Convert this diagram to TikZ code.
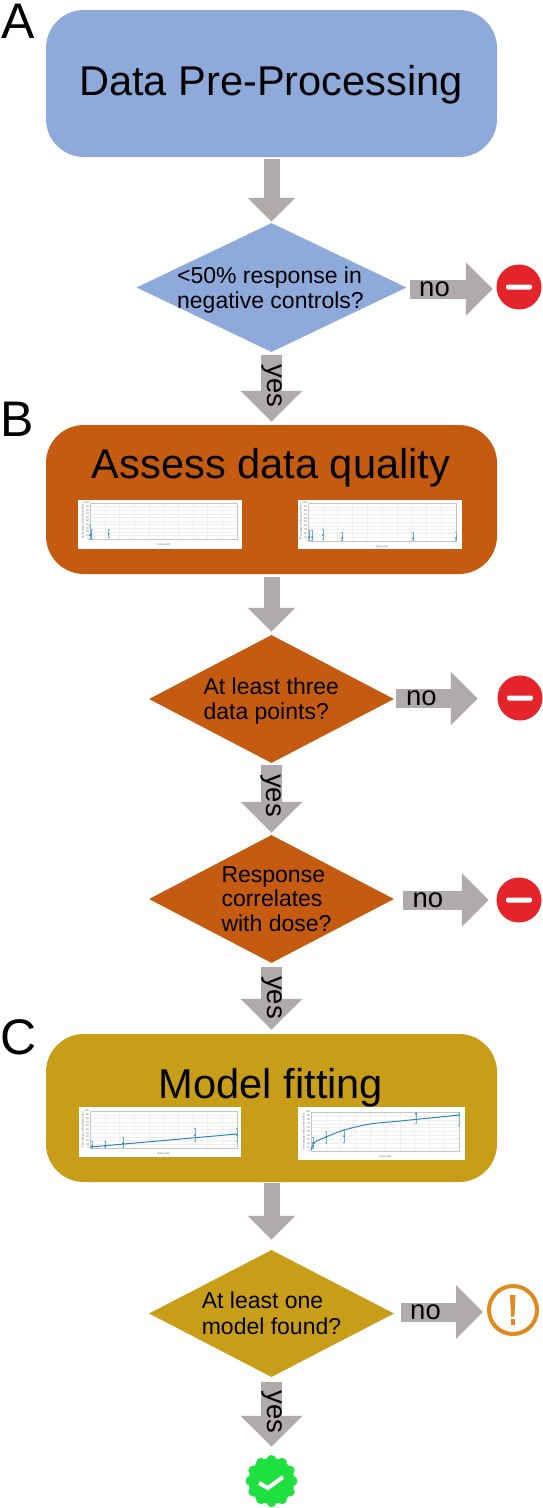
\documentclass[tikz,border=0pt]{standalone}
\usepackage{fontspec}
\setmainfont{Liberation Sans}
\usetikzlibrary{arrows.meta,shapes.geometric}
\definecolor{cblue}{HTML}{8EAADB}
\definecolor{corange}{HTML}{C55A11}
\definecolor{cgold}{HTML}{C89D18}
\definecolor{cgrey}{HTML}{B0AAAA}
\definecolor{cred}{HTML}{E4232B}
\definecolor{cwarn}{HTML}{E08A1E}
\definecolor{cgreen}{HTML}{1EE03F}
\definecolor{cplot}{HTML}{2A86BC}
\definecolor{cgrid}{HTML}{EFEFEF}
\tikzset{
  stagebox/.style={rounded corners=38pt,minimum width=451pt,minimum height=147pt,inner sep=0pt},
  stagetitle/.style={font=\fontsize{41.6}{46}\selectfont,inner sep=0pt},
  decide/.style={diamond,aspect=2,inner sep=0pt},
  decidetext/.style={font=\fontsize{23}{25.5}\selectfont,align=left,inner sep=0pt},
  panel/.style={fill=white,draw=none},
  flowlabel/.style={font=\fontsize{27.5}{30}\selectfont,inner sep=0pt},
  letter/.style={font=\fontsize{50}{54}\selectfont,inner sep=0pt},
  flowplain/.style={draw=cgrey,line width=16pt,-{Triangle[length=24pt,width=46pt]}},
  flowyes/.style={draw=cgrey,line width=21pt,-{Triangle[length=31pt,width=60pt]}},
  flowno/.style={draw=cgrey,line width=19pt,-{Triangle[length=27pt,width=52pt]}},
  stopsign/.style={circle,fill=cred,minimum size=45pt,inner sep=0pt},
  minusbar/.style={fill=white,rounded corners=2pt,minimum width=26pt,minimum height=5pt,inner sep=0pt},
  gridline/.style={draw=cgrid,line width=0.25pt},
  axisline/.style={draw=gray!45,line width=0.3pt},
  errbar/.style={draw=cplot!65,line width=0.5pt},
  fitcurve/.style={draw=cplot,line width=1pt},
  tinytext/.style={font=\fontsize{2.6}{3}\selectfont,inner sep=0pt,text=black!60},
}
% plot background: x0 x1 ytop ybot
\newcommand{\plotgrid}[4]{%
  \foreach \i in {0,...,10}{
    \pgfmathsetmacro{\gx}{#1+(#2-#1)*\i/10}
    \pgfmathsetmacro{\gy}{#4+(#3-#4)*\i/10}
    \draw[gridline] (\gx,#3) -- (\gx,#4);
    \draw[gridline] (#1,\gy) -- (#2,\gy);
    \pgfmathtruncatemacro{\yval}{\i*10}
    \node[tinytext,anchor=east] at (#1-0.8,\gy) {\yval};
  }
  \draw[axisline] (#1,#3) rectangle (#2,#4);
  \node[tinytext] at ({(#1+#2)/2},#4+6) {Dose (uM)};
  \node[tinytext,rotate=90] at (#1-7,{(#3+#4)/2}) {Percentage of Maximum Effect};
}
% x ylow ymid yhigh
\newcommand{\ebar}[4]{%
  \draw[errbar] (#1,#2) -- (#1,#4);
  \draw[errbar] (#1-1,#2) -- (#1+1,#2);
  \draw[errbar] (#1-1,#4) -- (#1+1,#4);
  \fill[cplot] (#1,#3) circle (1pt);
}
\begin{document}
\begin{tikzpicture}[x=1pt,y=-1pt]
\path[use as bounding box] (0,0) rectangle (543,1508);

% letters
\node[letter] (la) at (18.5,21) {A};
\node[letter] (lb) at (16.7,419) {B};
\node[letter] (lc) at (18.5,1037.5) {C};

% section A
\node[stagebox,fill=cblue] (boxA) at (271.5,83.5) {};
\node[stagetitle] (ta) at (271,85) {Data Pre-Processing};
\node[decide,fill=cblue,minimum width=270pt,minimum height=129pt] (d1) at (271.5,287.5) {};
\node[decidetext] (dt1) at (270.5,290) {<50\% response in\\negative controls?};
\node[stopsign] (stop1) at (519,287) {};
\node[minusbar] (m1) at (stop1) {};

% section B
\node[stagebox,fill=corange,minimum height=149pt] (boxB) at (271.5,499.5) {};
\node[stagetitle] (tb) at (271,467.5) {Assess data quality};
\node[panel,minimum width=164pt,minimum height=49pt,inner sep=0pt] (pb1) at (160,524.5) {};
\node[panel,minimum width=164pt,minimum height=49pt,inner sep=0pt] (pb2) at (380,524.5) {};
\plotgrid{90}{237}{503}{539}
\ebar{90}{525}{535}{539}
\ebar{91.5}{529}{534}{538}
\ebar{108.7}{529}{534}{537}
\plotgrid{308}{456}{503}{541}
\ebar{309}{530}{537}{540}
\ebar{312}{530}{537}{540}
\ebar{323}{529}{535}{539}
\ebar{342}{532}{538}{540}
\ebar{413}{532}{538}{540}
\ebar{456}{532}{538}{540}

\node[decide,fill=corange,minimum width=245pt,minimum height=128pt] (d2) at (271.5,699) {};
\node[decidetext] (dt2) at (271.3,701) {At least three\\data points?};
\node[stopsign] (stop2) at (520,698) {};
\node[minusbar] (m2) at (stop2) {};

\node[decide,fill=corange,minimum width=245pt,minimum height=128pt] (d3) at (271.5,899) {};
\node[decidetext,font=\fontsize{23}{24.3}\selectfont] (dt3) at (276.5,899) {Response\\correlates\\with dose?};
\node[stopsign] (stop3) at (519,900) {};
\node[minusbar] (m3) at (stop3) {};

% section C
\node[stagebox,fill=cgold,minimum height=148pt] (boxC) at (271.5,1108) {};
\node[stagetitle] (tc) at (271,1087.5) {Model fitting};
\node[panel,minimum width=162pt,minimum height=50pt,inner sep=0pt] (pc1) at (160,1132) {};
\node[panel,minimum width=167pt,minimum height=53pt,inner sep=0pt] (pc2) at (381.5,1133.5) {};
\plotgrid{90}{237}{1111}{1148}
\ebar{92}{1141}{1146}{1148}
\ebar{105}{1141}{1146}{1148}
\ebar{123}{1137}{1143}{1147}
\ebar{195}{1128}{1135}{1141}
\ebar{237}{1128}{1135}{1141}
\draw[fitcurve] (90,1147) -- (237,1134);
\plotgrid{311}{459}{1112}{1151}
\ebar{313}{1137}{1143}{1148}
\ebar{326}{1131}{1137}{1143}
\ebar{344}{1130}{1136}{1142}
\ebar{416}{1112}{1114}{1123}
\ebar{459}{1112}{1115}{1125}
\draw[fitcurve] plot[smooth] coordinates {(311,1150) (315,1142) (326,1137) (344,1130) (370,1124) (400,1121) (430,1118) (459,1115)};

\node[decide,fill=cgold,minimum width=245pt,minimum height=127pt] (d4) at (271.5,1313.5) {};
\node[decidetext] (dt4) at (271.5,1313.5) {At least one\\model found?};

% warning
\node[circle,draw=cwarn,line width=4pt,minimum size=48pt,inner sep=0pt] (warn) at (513,1310) {};
\fill[cwarn] (510,1295) -- (515.5,1295) -- (514.4,1316.5) -- (511.1,1316.5) -- cycle;
\fill[cwarn] (510.7,1318.5) rectangle (515,1325);

% done
\node[circle,fill=cgreen,minimum size=46pt,inner sep=0pt] (done) at (271.5,1481) {};
\foreach \a in {0,30,...,330}{\fill[cgreen] (done) ++(\a:21pt) circle (5pt);}
\draw[white,line width=4pt] (259,1483) -- (268,1488) -- (283,1477);

% heights of the horizontal connectors
\coordinate (no1c) at (0,289);
\coordinate (no2c) at (0,698.5);
\coordinate (no3c) at (0,900);
\coordinate (no4c) at (0,1312);

% connectors
\draw[flowplain,shorten <=2pt,shorten >=1pt] (boxA) -- (d1);
\draw[flowyes,shorten <=3pt,shorten >=3pt] (d1) -- (boxB);
\draw[flowno,shorten <=3pt,shorten >=3.5pt] (d1.east |- no1c) -- (stop1.west |- no1c);
\draw[flowplain,shorten <=3pt,shorten >=3pt] (boxB) -- (d2);
\draw[flowno,shorten <=2pt,shorten >=19.5pt] (d2.east |- no2c) -- (stop2.west |- no2c);
\draw[flowyes,shorten <=2pt,shorten >=2pt] (d2) -- (d3);
\draw[flowno,shorten <=9pt,shorten >=7.5pt] (d3.east |- no3c) -- (stop3.west |- no3c);
\draw[flowyes,shorten <=4pt,shorten >=4pt] (d3) -- (boxC);
\draw[flowplain,shorten <=1pt,shorten >=10pt] (boxC) -- (d4);
\draw[flowno,shorten <=6.5pt,shorten >=4pt] (d4.east |- no4c) -- (warn.west |- no4c);
\draw[flowyes,shorten <=5pt,shorten >=11pt] (d4) -- (done);

\node[flowlabel] (no1) at (434.5,289.5) {no};
\node[flowlabel] (no2) at (421.5,698.5) {no};
\node[flowlabel] (no3) at (428,900) {no};
\node[flowlabel] (no4) at (425.5,1312) {no};
\node[flowlabel,rotate=-90] (yes1) at (272.5,386) {yes};
\node[flowlabel,rotate=-90] (yes2) at (271,795.5) {yes};
\node[flowlabel,rotate=-90] (yes3) at (272,997.5) {yes};
\node[flowlabel,rotate=-90] (yes4) at (272,1412) {yes};
\end{tikzpicture}
\end{document}
